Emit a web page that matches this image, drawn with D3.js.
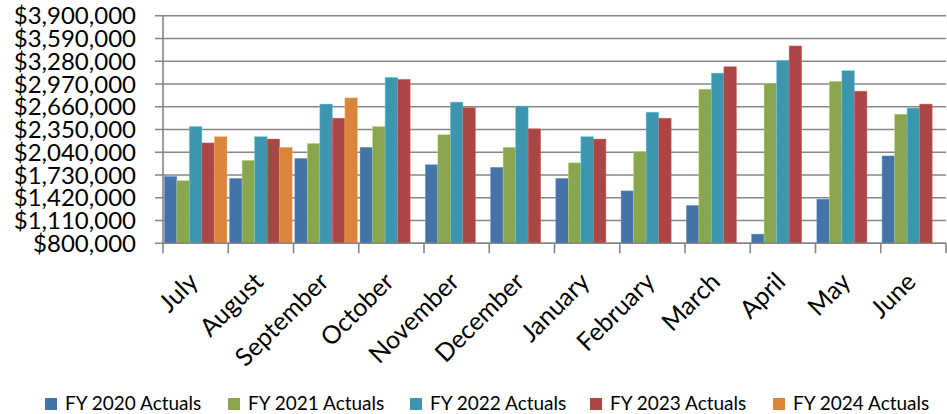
<!DOCTYPE html>
<html>
<head>
<meta charset="utf-8">
<script src="https://cdn.jsdelivr.net/npm/d3@7"></script>
<style>
  html, body { margin: 0; padding: 0; background: #fff; }
  svg { display: block; }
</style>
</head>
<body>
<svg id="chart" width="947" height="414"></svg>
<script>
// Monthly actuals by fiscal year
const months = ["July", "August", "September", "October", "November", "December",
                "January", "February", "March", "April", "May", "June"];
const seriesNames = ["FY 2020 Actuals", "FY 2021 Actuals", "FY 2022 Actuals", "FY 2023 Actuals", "FY 2024 Actuals"];
const fy2020 = [1711000, 1684000, 1956000, 2107000, 1870000, 1835000, 1684000, 1514000, 1316000, 925000, 1401000, 1990000];
const fy2021 = [1653000, 1930000, 2161000, 2390000, 2279000, 2107000, 1896000, 2049000, 2899000, 2979000, 3006000, 2558000];
const fy2022 = [2390000, 2252000, 2696000, 3060000, 2723000, 2669000, 2252000, 2585000, 3118000, 3289000, 3151000, 2642000];
const fy2023 = [2167000, 2220000, 2504000, 3033000, 2647000, 2359000, 2220000, 2504000, 3205000, 3488000, 2872000, 2696000];
const fy2024 = [2252000, 2107000, 2781000, null, null, null, null, null, null, null, null, null];
const yTicks = [800000, 1110000, 1420000, 1730000, 2040000, 2350000, 2660000, 2970000, 3280000, 3590000, 3900000];
const colors = ["#4572A7", "#89A54E", "#3D96AE", "#AA4643", "#DB843D"];

const seriesValues = [fy2020, fy2021, fy2022, fy2023, fy2024];

const svg = d3.select("#chart");
const plot = { left: 163, right: 946, top: 15.7, bottom: 243.3 };

const x = d3.scaleBand().domain(months).range([plot.left, plot.right]).paddingInner(0).paddingOuter(0);
const inner = d3.scaleBand().domain(d3.range(seriesNames.length))
  .range([0, x.bandwidth()]).paddingOuter(0.105).paddingInner(0);
const y = d3.scaleLinear().domain([yTicks[0], yTicks[yTicks.length - 1]]).range([plot.bottom, plot.top]);

const gridColor = "#868686";

// horizontal gridlines (extend left as tick marks)
svg.append("g").selectAll("line").data(yTicks).join("line")
  .attr("x1", plot.left - 8).attr("x2", plot.right)
  .attr("y1", d => y(d)).attr("y2", d => y(d))
  .attr("stroke", gridColor).attr("stroke-width", 1.6);

// y tick labels
svg.append("g").selectAll("text").data(yTicks).join("text")
  .attr("x", 136).attr("y", d => y(d))
  .attr("dy", "0.36em")
  .attr("text-anchor", "end")
  .attr("font-family", "Lato, 'Open Sans', sans-serif")
  .attr("font-size", 24)
  .attr("fill", "#000")
  .text(d => "$" + d3.format(",")(d));

// bars
const groups = svg.append("g").selectAll("g").data(months).join("g")
  .attr("transform", m => `translate(${x(m)},0)`);
groups.each(function (m, mi) {
  const cells = seriesValues.map((vals, si) => ({ si, v: vals[mi] })).filter(d => d.v != null);
  d3.select(this).selectAll("rect").data(cells).join("rect")
    .attr("x", d => inner(d.si))
    .attr("width", inner.bandwidth())
    .attr("y", d => y(d.v))
    .attr("height", d => y(yTicks[0]) - y(d.v))
    .attr("fill", d => colors[d.si])
    .attr("stroke", d => d3.color(colors[d.si]).brighter(0.9))
    .attr("stroke-width", 0.6)
    .attr("stroke-opacity", 0.7);
});

// axes lines
svg.append("line").attr("x1", plot.left).attr("x2", plot.left)
  .attr("y1", plot.top).attr("y2", plot.bottom + 10)
  .attr("stroke", gridColor).attr("stroke-width", 1.6);
svg.append("line").attr("x1", plot.left).attr("x2", plot.right)
  .attr("y1", plot.bottom).attr("y2", plot.bottom)
  .attr("stroke", gridColor).attr("stroke-width", 1.6);

// category tick marks at band boundaries
svg.append("g").selectAll("line").data(months).join("line")
  .attr("x1", m => x(m) + x.bandwidth())
  .attr("x2", m => x(m) + x.bandwidth())
  .attr("y1", plot.bottom).attr("y2", plot.bottom + 10)
  .attr("stroke", gridColor).attr("stroke-width", 1.6);

// rotated month labels
svg.append("g").selectAll("text").data(months).join("text")
  .attr("transform", m => `translate(${x(m) + x.bandwidth() / 2 + 4},${plot.bottom + 40}) rotate(-45)`)
  .attr("text-anchor", "end")
  .attr("font-family", "Lato, 'Open Sans', sans-serif")
  .attr("font-size", 25)
  .attr("fill", "#000")
  .text(m => m);

// legend
const legendX = [45, 228, 410, 590, 773];
const legend = svg.append("g").selectAll("g").data(seriesNames).join("g")
  .attr("transform", (d, i) => `translate(${legendX[i]},398)`);
legend.append("rect").attr("width", 12).attr("height", 12)
  .attr("fill", (d, i) => colors[i]);
legend.append("text").attr("x", 20).attr("y", 12)
  .attr("font-family", "Lato, 'Open Sans', sans-serif")
  .attr("font-size", 19)
  .attr("fill", "#000")
  .text(d => d);
</script>
</body>
</html>
